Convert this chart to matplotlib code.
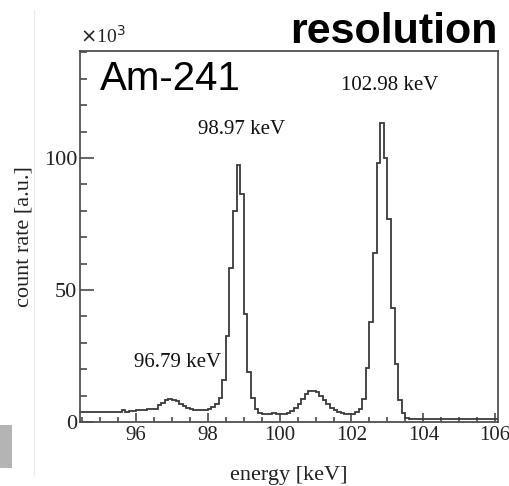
import numpy as np
import matplotlib
matplotlib.use("Agg")
import matplotlib.pyplot as plt
from matplotlib.ticker import MultipleLocator
from matplotlib.patches import Rectangle

# ---- data ----
bin_start = 94.4      # keV, left edge of first bin
bin_width = 0.1       # keV
counts_k = [
    # 94.4 - 95.5
    3.9, 3.9, 3.9, 3.9, 3.9, 3.9, 3.9, 3.9, 3.9, 3.9, 3.9, 3.9,
    # 95.6 - 96.5
    4.6, 3.6, 4.3, 4.3, 4.4, 4.4, 4.5, 4.8, 4.8, 4.9,
    # 96.6 - 97.5
    6.3, 7.1, 8.2, 8.6, 8.5, 7.8, 6.8, 5.9, 5.3, 4.9,
    # 97.6 - 98.5
    4.7, 4.6, 4.6, 4.7, 4.8, 5.5, 6.8, 9.2, 16.0, 32.6,
    # 98.6 - 99.5
    58.5, 80.0, 97.5, 86.5, 41.0, 19.0, 9.2, 4.9, 3.5, 3.1,
    # 99.6 - 100.5
    3.1, 3.0, 3.4, 3.1, 3.1, 3.1, 3.3, 4.2, 5.4, 6.7,
    # 100.6 - 101.5
    8.6, 10.7, 11.7, 11.8, 11.5, 9.8, 8.2, 7.0, 5.4, 4.5,
    # 101.6 - 102.5
    3.8, 3.4, 3.2, 3.1, 3.2, 3.6, 5.0, 8.6, 20.6, 38.0,
    # 102.6 - 103.5
    64.0, 98.0, 113.4, 100.0, 77.0, 43.0, 21.8, 8.2, 3.3, 1.6,
    # 103.6 - 104.5
    1.0, 1.0, 1.0, 1.0, 1.0, 1.0, 1.0, 1.0, 1.0, 1.0,
    # 104.6 - 105.5
    1.0, 1.0, 1.0, 1.0, 1.0, 1.0, 1.0, 1.0, 1.0, 1.0,
    # 105.6 - 106.0
    1.0, 1.0, 1.0, 1.0, 1.0,
]
peak_labels = ["96.79 keV", "98.97 keV", "102.98 keV"]
peak_label_pos = [(97.15, 22.7), (98.93, 110.6), (103.07, 127.6)]
x_ticks = [96, 98, 100, 102, 104, 106]
y_ticks = [0, 50, 100]
source_label = "Am-241"
title = "resolution"

counts_k = np.array(counts_k)
edges = bin_start + bin_width * np.arange(len(counts_k) + 1)

serif = "Liberation Serif"
sans = "Liberation Sans"
dark = "#3a3a3a"

fig = plt.figure(figsize=(5.10, 4.86), dpi=100)
fig.patch.set_facecolor("white")

# faint slide decorations on left edge
fig.add_artist(Rectangle((0, 1 - 468 / 486), 12 / 510, 43 / 486,
                         transform=fig.transFigure, facecolor="#b4b4b4",
                         edgecolor="none"))
fig.add_artist(plt.Line2D([34 / 510, 34 / 510], [0.02, 0.98],
                          transform=fig.transFigure, color="#ececec", lw=0.8))

ax = fig.add_axes([80 / 510, 1 - 422 / 486, 418 / 510, 371 / 486])
ax.stairs(counts_k, edges, baseline=None, color=dark, lw=1.3)

ax.set_xlim(94.44, 106.08)
ax.set_ylim(0, 140.5)

ax.set_xticks(x_ticks)
ax.set_yticks(y_ticks)
ax.xaxis.set_minor_locator(MultipleLocator(0.5))
ax.yaxis.set_minor_locator(MultipleLocator(10))
ax.tick_params(which="both", direction="in", top=False, right=False,
               color=dark, width=1.1)
ax.tick_params(axis="y", which="major", length=10, pad=2, labelsize=16)
ax.tick_params(axis="y", which="minor", length=5)
ax.tick_params(axis="x", which="major", length=6.5, pad=3, labelsize=15)
ax.tick_params(axis="x", which="minor", length=3.5)
for lab in ax.get_xticklabels() + ax.get_yticklabels():
    lab.set_fontfamily(serif)
    lab.set_color("#222222")
for sp in ax.spines.values():
    sp.set_color("#505050")
    sp.set_linewidth(1.3)

ax.set_xlabel("energy [keV]", fontfamily=serif, fontsize=16, color="#222222")
ax.xaxis.set_label_coords(0.5, -0.119)
ax.set_ylabel("count rate [a.u.]", fontfamily=serif, fontsize=16, color="#222222")
ax.yaxis.set_label_coords(-0.112, 0.5)

# x10^3 multiplier
ax.text(0.0, 1.012, r"$\times$10$^{3}$", transform=ax.transAxes, ha="left",
        va="bottom", fontfamily=serif, fontsize=14, color="#222222")

for txt, (px, py) in zip(peak_labels, peak_label_pos):
    ax.text(px, py, txt, ha="center", va="center", fontfamily=serif,
            fontsize=15, color="#111111")

ax.text(0.047, 0.925, source_label, transform=ax.transAxes, ha="left",
        va="center", fontfamily=sans, fontsize=29, color="black")

fig.text(498 / 510, 1 - 43 / 486, title, ha="right", va="baseline",
         fontfamily=sans, fontweight="bold", fontsize=31, color="black")

fig.savefig("out.png", dpi=100, facecolor="white")
